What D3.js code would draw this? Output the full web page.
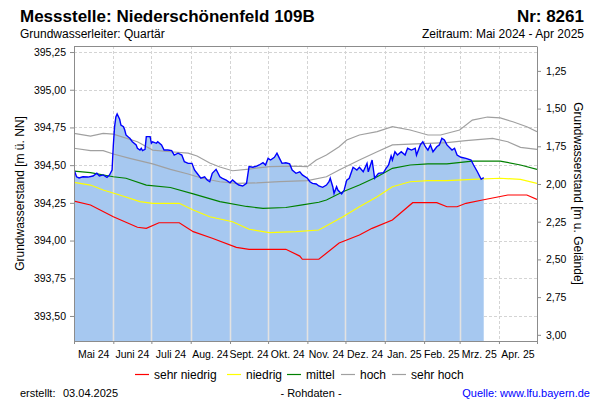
<!DOCTYPE html>
<html><head><meta charset="utf-8">
<script src="https://cdn.jsdelivr.net/npm/d3@7"></script>
<style>
body{margin:0;background:#fff}
svg{font-family:"Liberation Sans",Arial,sans-serif;display:block}
</style>
</head><body>
<svg id="c" width="600" height="400"></svg>
<script>
// ---------- data ----------
const monthStarts = ["2024-05-01","2024-06-01","2024-07-01","2024-08-01","2024-09-01","2024-10-01","2024-11-01","2024-12-01","2025-01-01","2025-02-01","2025-03-01","2025-04-01","2025-05-01"];
const monthLabels = ["Mai 24","Juni 24","Juli 24","Aug. 24","Sept. 24","Okt. 24","Nov. 24","Dez. 24","Jan. 25","Feb. 25","Mrz. 25","Apr. 25"];
const leftTicks = [393.50,393.75,394.00,394.25,394.50,394.75,395.00,395.25];
const rightTicks = [1.25,1.50,1.75,2.00,2.25,2.50,2.75,3.00];
const groundLevel = 396.375;   // m ü. NN (Geländehöhe)
const levelDomain = [393.334, 395.290];

const measured = [
["2024-05-01",394.472],["2024-05-03",394.423],["2024-05-05",394.415],["2024-05-08",394.423],["2024-05-12",394.421],
["2024-05-16",394.428],["2024-05-19",394.446],["2024-05-21",394.428],["2024-05-24",394.435],["2024-05-27",394.419],
["2024-05-29",394.435],["2024-05-31",394.468],["2024-06-01",394.630],["2024-06-02",394.755],["2024-06-03",394.820],
["2024-06-04",394.839],["2024-06-06",394.804],["2024-06-07",394.766],["2024-06-09",394.755],["2024-06-10",394.733],
["2024-06-11",394.700],["2024-06-13",394.685],["2024-06-14",394.678],["2024-06-16",394.655],["2024-06-19",394.634],
["2024-06-20",394.612],["2024-06-22",394.600],["2024-06-23",394.612],["2024-06-24",394.596],["2024-06-26",394.605],
["2024-06-27",394.689],["2024-06-30",394.689],["2024-07-01",394.645],["2024-07-02",394.655],["2024-07-05",394.645],
["2024-07-06",394.655],["2024-07-09",394.634],["2024-07-11",394.600],["2024-07-14",394.600],["2024-07-17",394.596],
["2024-07-19",394.567],["2024-07-22",394.579],["2024-07-25",394.567],["2024-07-27",394.523],["2024-07-30",394.512],
["2024-08-02",394.512],["2024-08-04",394.468],["2024-08-06",394.446],["2024-08-09",394.413],["2024-08-12",394.423],
["2024-08-14",394.401],["2024-08-16",394.390],["2024-08-18",394.446],["2024-08-21",394.472],["2024-08-22",394.456],
["2024-08-24",394.423],["2024-08-26",394.413],["2024-08-29",394.401],["2024-09-01",394.383],["2024-09-03",394.401],
["2024-09-06",394.379],["2024-09-08",394.368],["2024-09-11",394.362],["2024-09-14",394.379],["2024-09-15",394.435],
["2024-09-16",394.490],["2024-09-19",394.486],["2024-09-22",394.494],["2024-09-24",394.501],["2024-09-27",394.516],
["2024-09-29",394.501],["2024-10-01",394.545],["2024-10-03",394.534],["2024-10-06",394.552],["2024-10-08",394.579],
["2024-10-10",394.545],["2024-10-12",394.512],["2024-10-15",394.516],["2024-10-18",394.508],["2024-10-20",394.468],
["2024-10-23",394.446],["2024-10-26",394.456],["2024-10-28",394.435],["2024-11-01",394.413],["2024-11-03",394.390],
["2024-11-05",394.379],["2024-11-08",394.375],["2024-11-10",394.362],["2024-11-13",394.353],["2024-11-16",394.368],
["2024-11-18",394.390],["2024-11-19",394.413],["2024-11-21",394.357],["2024-11-22",394.313],["2024-11-24",394.357],
["2024-11-25",394.335],["2024-11-28",394.309],["2024-11-30",394.335],["2024-12-02",394.401],["2024-12-04",394.413],
["2024-12-07",394.486],["2024-12-10",394.468],["2024-12-12",394.486],["2024-12-15",394.456],["2024-12-18",394.512],
["2024-12-19",394.456],["2024-12-22",394.534],["2024-12-24",394.413],["2024-12-27",394.446],["2024-12-31",394.450],
["2025-01-02",394.479],["2025-01-04",394.501],["2025-01-06",394.561],["2025-01-07",394.534],["2025-01-09",394.589],
["2025-01-11",394.567],["2025-01-14",394.589],["2025-01-17",394.567],["2025-01-19",394.612],["2025-01-22",394.600],
["2025-01-25",394.612],["2025-01-26",394.567],["2025-01-29",394.634],["2025-01-31",394.655],["2025-02-02",394.622],
["2025-02-04",394.600],["2025-02-06",394.634],["2025-02-08",394.589],["2025-02-11",394.622],["2025-02-13",394.634],
["2025-02-15",394.678],["2025-02-17",394.667],["2025-02-19",394.634],["2025-02-23",394.600],["2025-02-25",394.612],
["2025-02-27",394.567],["2025-03-02",394.552],["2025-03-06",394.545],["2025-03-10",394.534],["2025-03-12",394.501],
["2025-03-15",394.456],["2025-03-18",394.406],["2025-03-20",394.417]
];

const sehrHoch = [
["2024-05-01",394.711],["2024-05-14",394.693],["2024-05-24",394.711],["2024-06-01",394.706],["2024-06-20",394.655],
["2024-07-02",394.600],["2024-07-16",394.589],["2024-07-30",394.580],["2024-08-06",394.561],["2024-08-16",394.514],
["2024-08-24",394.488],["2024-09-03",394.463],["2024-09-16",394.474],["2024-10-02",394.490],["2024-10-20",394.494],
["2024-11-01",394.490],["2024-11-08",394.534],["2024-11-16",394.567],["2024-11-26",394.622],["2024-12-02",394.667],
["2024-12-12",394.700],["2024-12-26",394.722],["2025-01-07",394.755],["2025-01-21",394.733],["2025-02-04",394.700],
["2025-02-14",394.700],["2025-03-01",394.733],["2025-03-11",394.799],["2025-03-23",394.819],["2025-04-02",394.813],
["2025-04-12",394.788],["2025-04-23",394.755],["2025-05-01",394.722]
];
const hoch = [
["2024-05-01",394.612],["2024-05-14",394.596],["2024-05-24",394.596],["2024-06-01",394.574],["2024-06-14",394.545],
["2024-07-02",394.508],["2024-07-16",394.472],["2024-07-30",394.441],["2024-08-10",394.413],["2024-08-24",394.390],
["2024-09-06",394.379],["2024-09-22",394.382],["2024-10-10",394.391],["2024-11-01",394.397],["2024-11-16",394.423],
["2024-11-26",394.468],["2024-12-12",394.534],["2024-12-26",394.589],["2025-01-07",394.634],["2025-01-21",394.640],
["2025-02-04",394.645],["2025-02-19",394.649],["2025-03-06",394.662],["2025-03-27",394.678],["2025-04-08",394.655],
["2025-04-18",394.618],["2025-05-01",394.605]
];
const mittel = [
["2024-05-01",394.461],["2024-05-14",394.451],["2024-06-01",394.423],["2024-06-11",394.413],["2024-06-27",394.368],
["2024-07-16",394.352],["2024-08-03",394.309],["2024-08-24",394.258],["2024-09-14",394.226],["2024-09-27",394.214],
["2024-10-15",394.219],["2024-10-28",394.236],["2024-11-10",394.254],["2024-11-16",394.269],["2024-11-29",394.324],
["2024-12-12",394.368],["2024-12-26",394.423],["2025-01-07",394.479],["2025-01-21",394.501],["2025-02-04",394.508],
["2025-02-19",394.508],["2025-03-11",394.527],["2025-04-02",394.527],["2025-04-18",394.501],["2025-05-01",394.472]
];
const niedrig = [
["2024-05-01",394.386],["2024-05-14",394.368],["2024-05-24",394.335],["2024-06-06",394.302],["2024-06-22",394.258],
["2024-07-02",394.247],["2024-07-23",394.247],["2024-08-03",394.203],["2024-08-16",394.158],["2024-09-03",394.125],
["2024-09-16",394.075],["2024-10-02",394.052],["2024-10-23",394.059],["2024-11-10",394.070],["2024-11-29",394.158],
["2024-12-12",394.224],["2024-12-26",394.291],["2025-01-07",394.357],["2025-01-21",394.390],["2025-02-04",394.397],
["2025-02-19",394.397],["2025-03-11",394.406],["2025-04-02",394.413],["2025-04-18",394.406],["2025-05-01",394.379]
];
const sehrNiedrig = [
["2024-05-01",394.262],["2024-05-14",394.236],["2024-06-01",394.158],["2024-06-20",394.088],["2024-06-27",394.081],
["2024-07-07",394.118],["2024-07-23",394.118],["2024-08-03",394.059],["2024-08-18",394.015],["2024-09-06",393.955],
["2024-09-16",393.942],["2024-10-15",393.942],["2024-10-26",393.897],["2024-10-28",393.876],["2024-11-10",393.876],
["2024-11-26",393.984],["2024-12-12",394.037],["2024-12-22",394.081],["2025-01-07",394.136],["2025-01-23",394.251],
["2025-02-11",394.251],["2025-02-19",394.224],["2025-02-27",394.224],["2025-03-06",394.247],["2025-03-19",394.269],
["2025-04-08",394.302],["2025-04-23",394.302],["2025-05-01",394.273]
];

const legendItems = [
  {label:"sehr niedrig", color:"#ff0000"},
  {label:"niedrig", color:"#ffff00"},
  {label:"mittel", color:"#008000"},
  {label:"hoch", color:"#a0a0a0"},
  {label:"sehr hoch", color:"#a0a0a0"}
];

// ---------- layout ----------
const L = 74, R = 537, T = 46, B = 341;
const parse = d3.timeParse("%Y-%m-%d");
const svg = d3.select("#c");
const fmt = v => d3.format(".2f")(v).replace(".", ",");

const x = d3.scaleTime().domain([parse(monthStarts[0]), parse(monthStarts[monthStarts.length-1])]).range([L, R]);
const y = d3.scaleLinear().domain(levelDomain).range([B, T]);
const yr = d3.scaleLinear().domain([groundLevel - levelDomain[1], groundLevel - levelDomain[0]]).range([T, B]);

const toPts = arr => arr.map(d => ({date: parse(d[0]), v: d[1]}));
const meas = toPts(measured);

const defs = svg.append("defs");
defs.append("clipPath").attr("id","plot").append("rect").attr("x",L).attr("y",T).attr("width",R-L).attr("height",B-T);
const areaGen = d3.area().x(d => x(d.date)).y0(B).y1(d => y(d.v));
defs.append("clipPath").attr("id","areaClip").append("path").attr("d", areaGen(meas));

// grid (dashed)
const g = svg.append("g").attr("clip-path","url(#plot)");
g.selectAll("line.hg").data(leftTicks).join("line")
  .attr("x1",L).attr("x2",R).attr("y1",d=>Math.round(y(d))+0.5).attr("y2",d=>Math.round(y(d))+0.5)
  .attr("stroke","#d4d4d4").attr("stroke-dasharray","3,2");
const innerMonths = monthStarts.slice(1, -1).map(parse);
g.selectAll("line.vg").data(innerMonths).join("line")
  .attr("x1",d=>Math.round(x(d))+0.5).attr("x2",d=>Math.round(x(d))+0.5).attr("y1",T).attr("y2",B)
  .attr("stroke","#d4d4d4").attr("stroke-dasharray","3,2");

// area
g.append("path").attr("d", areaGen(meas)).attr("fill","#a6c8f0");
// vertical lines over area
g.append("g").attr("clip-path","url(#areaClip)").selectAll("line").data(innerMonths).join("line")
  .attr("x1",d=>Math.round(x(d))+0.5).attr("x2",d=>Math.round(x(d))+0.5).attr("y1",T).attr("y2",B)
  .attr("stroke","#e2e2e2").attr("stroke-width",1.6);

// statistic lines
const lineGen = d3.line().x(d => x(d.date)).y(d => y(d.v));
const stats = [[sehrHoch,"#a0a0a0"],[hoch,"#a0a0a0"],[mittel,"#008000"],[niedrig,"#ffff00"],[sehrNiedrig,"#ff0000"]];
stats.forEach(([arr,c]) => {
  g.append("path").attr("d", lineGen(toPts(arr))).attr("fill","none").attr("stroke",c).attr("stroke-width",1.2);
});
// measured line
g.append("path").attr("d", lineGen(meas)).attr("fill","none").attr("stroke","#0000ff").attr("stroke-width",1.4);

// axes
const axisColor = "#8c8c8c";
function styleAxis(sel){
  sel.selectAll("path.domain").attr("stroke",axisColor);
  sel.selectAll(".tick line").attr("stroke",axisColor);
  sel.selectAll(".tick text").attr("fill","#000").attr("font-size",10.5);
  sel.attr("font-family",null);
}
svg.append("g").attr("transform",`translate(${L},0)`)
  .call(d3.axisLeft(y).tickValues(leftTicks).tickFormat(fmt).tickSize(4).tickSizeOuter(0).tickPadding(4))
  .call(styleAxis);
svg.append("g").attr("transform",`translate(${R},0)`)
  .call(d3.axisRight(yr).tickValues(rightTicks).tickFormat(fmt).tickSize(4).tickSizeOuter(0).tickPadding(5))
  .call(styleAxis);
svg.append("g").attr("transform",`translate(0,${B})`)
  .call(d3.axisBottom(x).tickValues(monthStarts.map(parse)).tickFormat("").tickSize(3).tickSizeOuter(0))
  .call(styleAxis);
svg.append("line").attr("x1",L).attr("x2",R).attr("y1",T+0.5).attr("y2",T+0.5).attr("stroke",axisColor);

// month labels centered in each month
svg.append("g").selectAll("text").data(monthLabels).join("text")
  .attr("x",(d,i)=> (x(parse(monthStarts[i])) + x(parse(monthStarts[i+1])))/2)
  .attr("y",357.5).attr("text-anchor","middle").attr("font-size",10.5).text(d=>d);

// axis titles
svg.append("text").attr("transform",`translate(24,${(T+B)/2}) rotate(-90)`).attr("text-anchor","middle")
  .attr("font-size",12).text("Grundwasserstand [m ü. NN]");
svg.append("text").attr("transform",`translate(574,${(T+B)/2}) rotate(90)`).attr("text-anchor","middle")
  .attr("font-size",12).text("Grundwasserstand [m u. Gelände]");

// titles
svg.append("text").attr("x",20).attr("y",22).attr("font-size",17).attr("font-weight","bold").text("Messstelle: Niederschönenfeld 109B");
svg.append("text").attr("x",584).attr("y",22).attr("font-size",17).attr("font-weight","bold").attr("text-anchor","end").text("Nr: 8261");
svg.append("text").attr("x",20).attr("y",38).attr("font-size",12).text("Grundwasserleiter: Quartär");
svg.append("text").attr("x",584).attr("y",38).attr("font-size",12).attr("text-anchor","end").text("Zeitraum: Mai 2024 - Apr 2025");

// legend
const legX = [135, 227, 287, 341, 392];
const lg = svg.append("g");
legendItems.forEach((it,i) => {
  lg.append("line").attr("x1",legX[i]).attr("x2",legX[i]+14).attr("y1",374.5).attr("y2",374.5).attr("stroke",it.color).attr("stroke-width",1.2);
  lg.append("text").attr("x",legX[i]+19).attr("y",378.5).attr("font-size",12).text(it.label);
});

// footer
svg.append("text").attr("x",20).attr("y",397).attr("font-size",11).text("erstellt:");
svg.append("text").attr("x",63).attr("y",397).attr("font-size",11).text("03.04.2025");
svg.append("text").attr("x",311).attr("y",397).attr("font-size",11).attr("text-anchor","middle").text("- Rohdaten -");
svg.append("text").attr("x",590).attr("y",397).attr("font-size",11).attr("text-anchor","end").attr("fill","#0000ff").text("Quelle: www.lfu.bayern.de");
</script>
</body></html>
